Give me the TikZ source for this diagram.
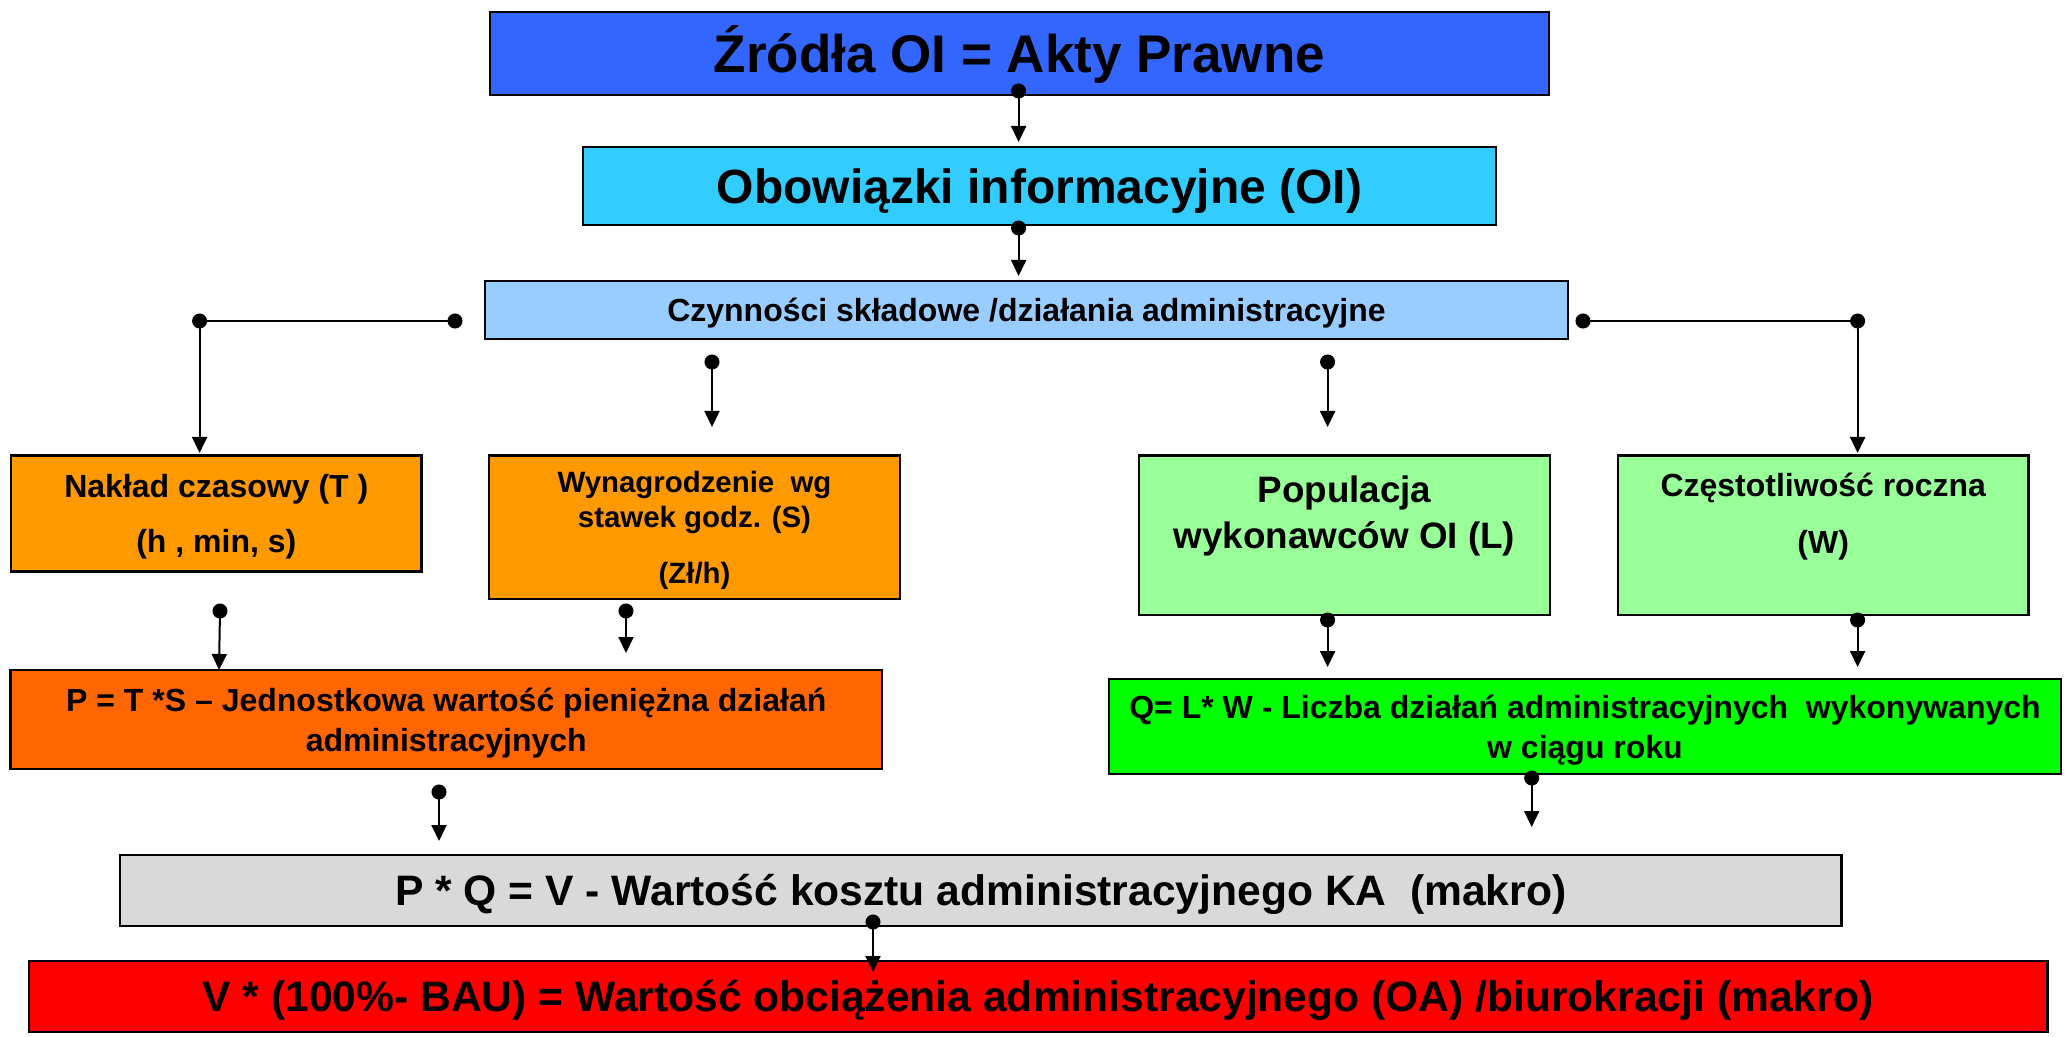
\documentclass[tikz,border=0pt]{standalone}
\usepackage{fontspec}
\setmainfont{Liberation Sans}
\usetikzlibrary{arrows.meta}

% Box colours
\definecolor{srcblue}{HTML}{3366FF}
\definecolor{oblblue}{HTML}{33CCFF}
\definecolor{actblue}{HTML}{99CCFF}
\definecolor{inorange}{HTML}{FF9900}
\definecolor{ingreen}{HTML}{99FF99}
\definecolor{resorange}{HTML}{FF6600}
\definecolor{resgreen}{HTML}{00FF00}
\definecolor{kagray}{HTML}{D9D9D9}
\definecolor{oared}{HTML}{FF0000}

% Bold text of a given size and line pitch
\newcommand{\boxfont}[2]{\fontsize{#1}{#2}\selectfont\bfseries}

\begin{document}
\begin{tikzpicture}[x=0.5pt, y=-0.5pt,
    box/.style={draw, line width=1.2pt, rectangle, inner sep=0pt, align=center},
    conn/.style={line width=1pt, {Circle[length=7.5pt]}-{Triangle[width=7.5pt,length=8pt]}, shorten <=-3.75pt}
]

    % Fix the page to the size of the reference
    \useasboundingbox (0,0) rectangle (2068,1037);

    % Define the radius of the connector dots
    \def\R{3.75pt}

    % Top chain of boxes (one line each, centred on the capitals)
    \node[box, fill=srcblue, minimum width=529.5pt, minimum height=41.5pt, font={\boxfont{26.5}{32}}, text height=19pt, text depth=0pt] (src) at (1019.5,53.5) {Źródła OI = Akty Prawne};
    \node[box, fill=oblblue, minimum width=456.5pt, minimum height=39pt, font={\boxfont{24}{29}}, text height=17.2pt, text depth=0pt] (obl) at (1039.5,186) {Obowiązki informacyjne (OI)};
    \node[box, fill=actblue, minimum width=541.5pt, minimum height=29pt, font={\boxfont{16}{19.2}}, text height=11.5pt, text depth=0pt] (act) at (1026.5,310) {Czynności składowe /działania administracyjne};

    % The four input boxes
    \node[box, fill=inorange, minimum width=205.3pt, minimum height=58pt, font={\boxfont{16}{27.5}}, text depth=0pt] (T) at (216.3,513.7) {Nakład czasowy (T\ )\\(h , min, s)};
    \node[box, fill=inorange, minimum width=205.5pt, minimum height=71.7pt, font={\boxfont{14.7}{17.5}}, text depth=0pt] (S) at (694.5,527.4) {Wynagrodzenie\ \ wg\\stawek godz. (S)\\[10.5pt](Zł/h)};
    \node[box, fill=ingreen, minimum width=205.4pt, minimum height=79.7pt, font={\boxfont{18.4}{23.25}}] (L) at (1344.4,535.4) {Populacja\\wykonawców OI (L)\\\mbox{}};
    \node[box, fill=ingreen, minimum width=205.4pt, minimum height=79.7pt, font={\boxfont{16}{28.5}}] (W) at (1823.2,535.4) {Częstotliwość roczna\\(W)\\[-6pt]\mbox{}};

    % The two products
    \node[box, fill=resorange, minimum width=435.8pt, minimum height=49.5pt, font={\boxfont{16}{19.8}}, text depth=0pt] (P) at (446.3,719.5) {P = T *S – Jednostkowa wartość pieniężna działań\\administracyjnych};
    \node[box, fill=resgreen, minimum width=476pt, minimum height=47.5pt, font={\boxfont{16}{19.8}}, text depth=0pt] (Q) at (1585,726.5) {Q= L* W - Liczba działań administracyjnych\ \ wykonywanych\\w ciągu roku};

    % The two totals
    \node[box, fill=kagray, minimum width=860.8pt, minimum height=35.5pt, font={\boxfont{21.3}{25}}, text height=15.2pt, text depth=0pt] (KA) at (980.8,890.5) {P * Q = V - Wartość kosztu administracyjnego KA\ \ (makro)};
    \node[box, fill=oared, minimum width=1009.3pt, minimum height=35.5pt, font={\boxfont{21.3}{25}}, text height=15.2pt, text depth=0pt] (OA) at (1038,996.5) {V * (100\%- BAU) = Wartość obciążenia administracyjnego (OA) /biurokracji (makro)};

    % Dots and tips of the connectors
    \coordinate (srcDot) at (1018.6,91);
    \coordinate (oblTip) at (1018.6,142);
    \coordinate (oblDot) at (1018.6,228);
    \coordinate (actTip) at (1018.6,276);
    \coordinate (actL) at (455,321);
    \coordinate (cornL) at (199.6,321);
    \coordinate (TTip) at (199.6,453);
    \coordinate (actS) at (712,362);
    \coordinate (STip) at (712,427);
    \coordinate (actLq) at (1327.6,362);
    \coordinate (LTip) at (1327.6,427);
    \coordinate (actR) at (1583,321);
    \coordinate (cornR) at (1857.6,321);
    \coordinate (WTip) at (1857.6,453);
    \coordinate (TDot) at (220,611);
    \coordinate (PTipT) at (219,670);
    \coordinate (SDot) at (626,611);
    \coordinate (PTipS) at (626,653);
    \coordinate (LDot) at (1327.6,620);
    \coordinate (QTipL) at (1327.6,667);
    \coordinate (WDot) at (1857.6,620);
    \coordinate (QTipW) at (1857.6,667);
    \coordinate (PDot) at (439,792);
    \coordinate (KATipP) at (439,841);
    \coordinate (QDot) at (1531.7,778);
    \coordinate (KATipQ) at (1531.7,827);
    \coordinate (KADot) at (873,922);
    \coordinate (OATip) at (873,972);

    % Connectors down the chain
    \draw[conn] (srcDot) -- (oblTip);
    \draw[conn] (oblDot) -- (actTip);

    % Branches to the inputs
    \draw[conn] (actL) -- (cornL) -- (TTip);
    \fill (cornL) circle (\R);
    \draw[conn] (actS) -- (STip);
    \draw[conn] (actLq) -- (LTip);
    \draw[conn] (actR) -- (cornR) -- (WTip);
    \fill (cornR) circle (\R);

    % Inputs to products
    \draw[conn] (TDot) -- (PTipT);
    \draw[conn] (SDot) -- (PTipS);
    \draw[conn] (LDot) -- (QTipL);
    \draw[conn] (WDot) -- (QTipW);

    % Products to totals
    \draw[conn] (PDot) -- (KATipP);
    \draw[conn] (QDot) -- (KATipQ);
    \draw[conn] (KADot) -- (OATip);

\end{tikzpicture}
\end{document}
